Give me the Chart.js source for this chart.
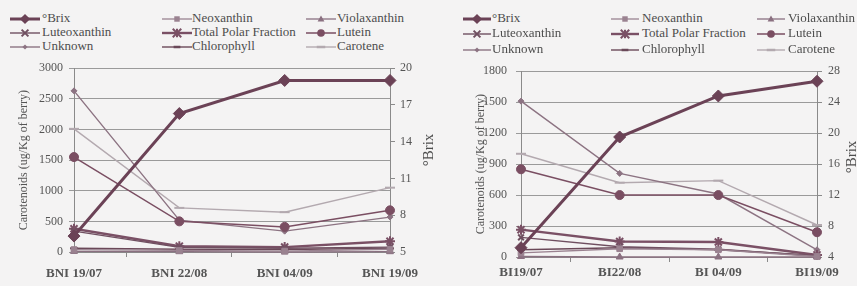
<!DOCTYPE html>
<html><head><meta charset="utf-8">
<script src="https://cdn.jsdelivr.net/npm/chart.js@4"></script>
<style>
html,body{margin:0;padding:0;}
body{width:857px;height:286px;background:#f4f3f3;position:relative;overflow:hidden;font-family:'Liberation Serif','DejaVu Serif',serif;color:#4d4d4d;}
.li{position:absolute;font-size:13px;line-height:14px;white-space:nowrap;}
.sw{position:absolute;}
.brix{position:absolute;font-size:15px;white-space:nowrap;transform:translate(-50%,-50%) rotate(-90deg);color:#4d4d4d;}
.box{position:absolute;}
</style></head><body>
<div class="box" style="left:0;top:55px;width:440px;height:231px"><canvas id="c1" width="440" height="231"></canvas></div>
<div class="box" style="left:440px;top:55px;width:417px;height:231px"><canvas id="c2" width="417" height="231"></canvas></div>
<div class="brix" style="left:428px;top:150px">°Brix</div>
<div class="brix" style="left:851px;top:157px">°Brix</div>
<script>
// ---- data ----
const catsBNI = ['BNI 19/07', 'BNI 22/08', 'BNI 04/09', 'BNI 19/09'];
const catsBI = ['BI19/07', 'BI22/08', 'BI 04/09', 'BI19/09'];
const seriesNames = ['°Brix', 'Neoxanthin', 'Violaxanthin', 'Luteoxanthin', 'Total Polar Fraction', 'Lutein', 'Unknown', 'Chlorophyll', 'Carotene'];

const brixBNI = [6.3, 16.3, 19.0, 19.0];
const neoxanthinBNI = [40, 25, 15, 45];
const violaxanthinBNI = [10, 5, 0, 5];
const luteoxanthinBNI = [340, 75, 60, 80];
const tpfBNI = [380, 95, 80, 175];
const luteinBNI = [1550, 500, 410, 680];
const unknownBNI = [2630, 520, 340, 570];
const chlorophyllBNI = [60, 45, 40, 60];
const caroteneBNI = [2010, 720, 650, 1050];

const brixBI = [5.2, 19.5, 24.8, 26.7];
const neoxanthinBI = [40, 80, 70, 5];
const violaxanthinBI = [5, 0, 0, 0];
const luteoxanthinBI = [190, 100, 75, 10];
const tpfBI = [265, 150, 145, 20];
const luteinBI = [850, 600, 600, 240];
const unknownBI = [1510, 810, 610, 70];
const chlorophyllBI = [70, 90, 70, 15];
const caroteneBI = [1000, 720, 740, 310];

const leftTicksBNI = [0, 500, 1000, 1500, 2000, 2500, 3000];
const rightTicksBNI = [5, 8, 11, 14, 17, 20];
const leftTicksBI = [0, 300, 600, 900, 1200, 1500, 1800];
const rightTicksBI = [4, 8, 12, 16, 20, 24, 28];

// ---- styles ----
const styles = [
  {color:'#6b4256', ps:'rectRot', r:6, lw:3},
  {color:'#9a8290', ps:'rect', r:4, lw:1.3},
  {color:'#8a7080', ps:'triangle', r:4, lw:1.3},
  {color:'#6f4f60', ps:'crossRot', r:4, lw:1.4, pbw:2},
  {color:'#7a5065', ps:'star', r:5, lw:2.4, pbw:2},
  {color:'#7a4e62', ps:'circle', r:4.5, lw:1.5},
  {color:'#8c7382', ps:'rectRot', r:3, lw:1.4},
  {color:'#6a4858', ps:'line', r:4, lw:1.4, pbw:2},
  {color:'#b3a9af', ps:'line', r:5, lw:1.4, pbw:2}
];
const FAM = "'Liberation Serif', 'DejaVu Serif', serif";

function markerSVG(st, cx, cy) {
  const c = st.color, r = st.r * 0.85;
  switch (st.ps) {
    case 'rectRot': return `<polygon points="${cx},${cy-r} ${cx+r},${cy} ${cx},${cy+r} ${cx-r},${cy}" fill="${c}"/>`;
    case 'rect': return `<rect x="${cx-r*0.8}" y="${cy-r*0.8}" width="${r*1.6}" height="${r*1.6}" fill="${c}"/>`;
    case 'triangle': return `<polygon points="${cx},${cy-r} ${cx+r},${cy+r*0.7} ${cx-r},${cy+r*0.7}" fill="${c}"/>`;
    case 'crossRot': return `<path d="M${cx-r} ${cy-r}L${cx+r} ${cy+r}M${cx+r} ${cy-r}L${cx-r} ${cy+r}" stroke="${c}" stroke-width="2"/>`;
    case 'star': return `<path d="M${cx-r} ${cy-r}L${cx+r} ${cy+r}M${cx+r} ${cy-r}L${cx-r} ${cy+r}M${cx} ${cy-r}L${cx} ${cy+r}M${cx-r} ${cy}L${cx+r} ${cy}" stroke="${c}" stroke-width="2"/>`;
    case 'circle': return `<circle cx="${cx}" cy="${cy}" r="${r}" fill="${c}"/>`;
    case 'line': return `<path d="M${cx-r} ${cy}L${cx+r} ${cy}" stroke="${c}" stroke-width="2.5"/>`;
  }
  return '';
}

function legend(cols, rows, swW, textX) {
  seriesNames.forEach((name, i) => {
    const st = styles[i];
    const col = i % 3, row = Math.floor(i / 3);
    const x = cols[col], y = rows[row];
    const svg = document.createElementNS('http://www.w3.org/2000/svg', 'svg');
    svg.setAttribute('width', swW); svg.setAttribute('height', 14);
    svg.setAttribute('class', 'sw');
    svg.style.left = x + 'px'; svg.style.top = (y - 7) + 'px';
    svg.innerHTML = `<line x1="0" y1="7" x2="${swW}" y2="7" stroke="${st.color}" stroke-width="${Math.min(st.lw,3)}"/>` + markerSVG(st, swW / 2, 7);
    document.body.appendChild(svg);
    const d = document.createElement('div');
    d.className = 'li'; d.textContent = name;
    d.style.left = textX[col] + 'px'; d.style.top = (y - 8) + 'px';
    document.body.appendChild(d);
  });
}
legend([10, 162, 306], [19, 33, 47], 30, [42, 192, 337]);
legend([463, 611, 757], [19, 34, 50], 28, [492, 642, 788]);

function build(id, cats, vals, brix, lt, rt, g) {
  const datasets = seriesNames.map((name, i) => {
    const st = styles[i];
    return {
      label: name, data: i === 0 ? brix : vals[i - 1], yAxisID: i === 0 ? 'y1' : 'y',
      borderColor: st.color, backgroundColor: st.color, borderWidth: st.lw,
      pointStyle: st.ps, pointRadius: st.r, pointBorderWidth: st.pbw || 1,
      pointBorderColor: st.color, pointBackgroundColor: st.color,
      tension: 0, clip: false
    };
  });
  const tickFont = {family: FAM, size: 12};
  const plain = v => String(v);
  new Chart(document.getElementById(id), {
    type: 'line',
    data: {labels: cats, datasets},
    options: {
      responsive: false, animation: false,
      layout: {padding: {top: g.top, left: 0, right: 0, bottom: 0}},
      plugins: {legend: {display: false}, tooltip: {enabled: false}},
      scales: {
        x: {
          grid: {offset: true, drawOnChartArea: false, tickLength: 5, color: '#8a8a8a'},
          border: {color: '#8a8a8a'},
          ticks: {font: {family: FAM, size: 13, weight: 'bold'}, color: '#555', padding: g.xpad, maxRotation: 0, autoSkip: false},
          afterFit(s) { s.height = g.xh; }
        },
        y: {
          position: 'left', min: lt[0], max: lt[lt.length - 1],
          ticks: {stepSize: lt[1] - lt[0], font: tickFont, color: '#555', padding: g.lpad, callback: plain},
          grid: {color: '#9a9a9a', tickLength: 5},
          border: {color: '#8a8a8a'},
          title: {display: true, text: 'Carotenoids (ug/Kg of berry)', font: {family: FAM, size: 12}, color: '#555', padding: {top: g.tpad, bottom: 0}},
          afterFit(s) { s.width = g.lw; }
        },
        y1: {
          position: 'right', min: rt[0], max: rt[rt.length - 1],
          ticks: {stepSize: rt[1] - rt[0], font: tickFont, color: '#555', padding: g.rpad, callback: plain},
          grid: {drawOnChartArea: false, tickLength: 5, color: '#8a8a8a'},
          border: {color: '#8a8a8a'},
          afterFit(s) { s.width = g.rw; }
        }
      }
    }
  });
}

build('c1', catsBNI,
  [neoxanthinBNI, violaxanthinBNI, luteoxanthinBNI, tpfBNI, luteinBNI, unknownBNI, chlorophyllBNI, caroteneBNI],
  brixBNI, leftTicksBNI, rightTicksBNI,
  {top: 12, xh: 34, lw: 74, rw: 50, xpad: 9, lpad: 6, rpad: 5, tpad: 17});
build('c2', catsBI,
  [neoxanthinBI, violaxanthinBI, luteoxanthinBI, tpfBI, luteinBI, unknownBI, chlorophyllBI, caroteneBI],
  brixBI, leftTicksBI, rightTicksBI,
  {top: 13, xh: 29, lw: 81, rw: 40, xpad: 3, lpad: 9, rpad: 6, tpad: 34});
</script>
</body></html>
